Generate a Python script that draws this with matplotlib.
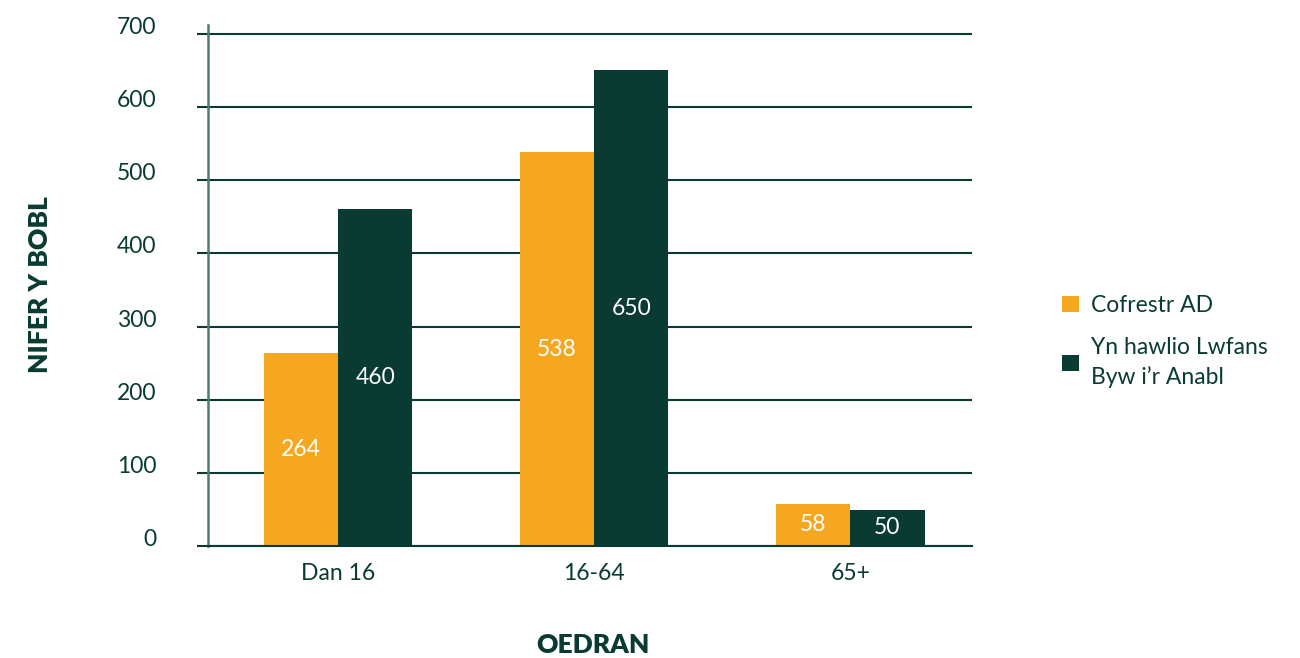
"""Bar chart: Cofrestr AD vs Lwfans Byw i'r Anabl by age group."""
import numpy as np
import matplotlib
matplotlib.use('Agg')
import matplotlib.pyplot as plt

DARK = '#093b32'
ORANGE = '#f5a81f'
SPINE = '#4f7b72'

plt.rcParams.update({
    'font.family': ['Lato', 'DejaVu Sans'],
    'text.color': DARK,
    'xtick.color': DARK,
    'ytick.color': DARK,
})

categories = ['Dan 16', '16-64', '65+']
cofrestr = [264, 538, 58]
lwfans = [460, 650, 50]
series_names = ['Cofrestr AD', 'Yn hawlio Lwfans\nByw i\u2019r Anabl']
yticks = [0, 100, 200, 300, 400, 500, 600, 700]

fig = plt.figure(figsize=(13, 6.58), dpi=100)
ax = fig.add_axes([0.16, 0.17, 0.588, 0.792])

x = np.arange(len(categories))
w = 0.29
b1 = ax.bar(x - w/2, cofrestr, w, color=ORANGE, label=series_names[0])
b2 = ax.bar(x + w/2, lwfans, w, color=DARK, label=series_names[1])

for bars in (b1, b2):
    ax.bar_label(bars, label_type='center', color='white', fontsize=16.5)

ax.set_xlim(-0.508, 2.477)
ax.set_ylim(0, 712)
ax.set_yticks(yticks)
ax.yaxis.grid(True, color=DARK, linewidth=1.5)
ax.set_axisbelow(True)
ax.tick_params(axis='y', length=8, width=1.5, color=DARK, pad=29, labelsize=16.5)
ax.tick_params(axis='x', length=0, pad=12, labelsize=16.5)
ax.set_xticks(x)
ax.set_xticklabels(categories)
for lbl in ax.get_yticklabels():
    lbl.set_verticalalignment('baseline')

for s in ['top', 'right']:
    ax.spines[s].set_visible(False)
ax.spines['left'].set_color(SPINE)
ax.spines['left'].set_linewidth(1.8)
ax.spines['bottom'].set_color(DARK)
ax.spines['bottom'].set_linewidth(1.5)

fig.text(0.031, 0.567, 'NIFER Y BOBL', rotation=90, ha='center', va='center',
         fontsize=19, fontweight='heavy', color=DARK)
fig.text(0.456, 0.02, 'OEDRAN', ha='center', va='center',
         fontsize=19, fontweight='heavy', color=DARK)

leg = fig.legend(loc='upper left', bbox_to_anchor=(0.801, 0.583), frameon=False,
                 fontsize=16.5, handlelength=0.75, handleheight=0.75,
                 handletextpad=0.5, labelspacing=0.9, labelcolor=DARK)
for t in leg.get_texts():
    t.set_linespacing(1.5)

plt.savefig('out.png', dpi=100, facecolor='white')
plt.close()
